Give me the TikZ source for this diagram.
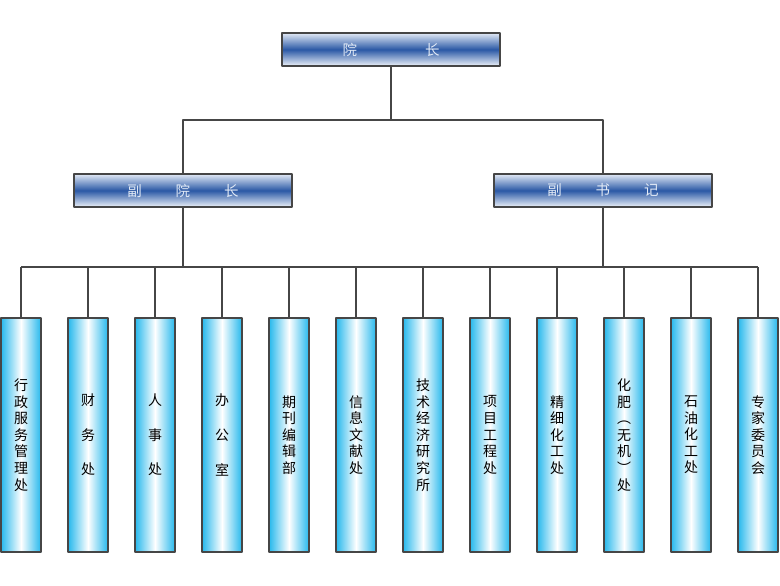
\documentclass[tikz,border=0pt]{standalone}
\usepackage{fontspec}
\newfontfamily\cjk{Noto Sans CJK SC}
\definecolor{barblue}{RGB}{42,88,165}
\definecolor{barlight}{RGB}{226,234,246}
\definecolor{colblue}{RGB}{38,184,236}
\definecolor{linegray}{RGB}{70,70,70}
\begin{document}
\begin{tikzpicture}[x=1pt, y=-1pt, line join=round,
    lead/.style={draw=linegray, line width=1.1pt, top color=barlight, bottom color=barlight!60!white,
        middle color=barblue, minimum width=218pt, minimum height=33pt, inner sep=0pt,
        text=barlight, font=\cjk\fontsize{14.5}{16}\selectfont},
    dept/.style={draw=linegray, line width=1.1pt, left color=colblue, right color=colblue,
        middle color=white, minimum width=40pt, minimum height=234pt, inner sep=0pt,
        align=center, font=\cjk\fontsize{14}{16.6}\selectfont},
    link/.style={draw=linegray, line width=1.1pt}]
    \useasboundingbox (0,0) rectangle (780,586);
    \def\ytop{49.5} \def\ymid{190.5} \def\ylow{435} % box centres
    \node[lead] (yz) at (391,\ytop) {院\hspace{68pt}长};
    \node[lead] (fyz) at (183,\ymid) {副\hspace{34pt}院\hspace{34pt}长};
    \node[lead] (fsj) at (603,\ymid) {副\hspace{34pt}书\hspace{34pt}记};
    \coordinate (bus1) at (391,120);
    \coordinate (bus2) at (391,267);
    % departments
    \foreach \i/\txt in {1/{行\\政\\服\\务\\管\\理\\处},
                         2/{财\\[18pt]务\\[18pt]处},
                         3/{人\\[18pt]事\\[18pt]处},
                         4/{办\\[18pt]公\\[18pt]室},
                         5/{期\\刊\\编\\辑\\部},
                         6/{信\\息\\文\\献\\处},
                         7/{技\\术\\经\\济\\研\\究\\所},
                         8/{项\\目\\工\\程\\处},
                         9/{精\\细\\化\\工\\处},
                         10/{化\\肥\\︵\\无\\机\\︶\\处},
                         11/{石\\油\\化\\工\\处},
                         12/{专\\家\\委\\员\\会}}
        \node[dept] (d\i) at ({21+67*(\i-1)},\ylow) {\txt};
    % connectors
    \draw[link] (yz.south) -- (bus1);
    \draw[link] (fyz.north) -- (fyz.north |- bus1) -- (fsj.north |- bus1) -- (fsj.north);
    \draw[link] (fyz.south) -- (fyz.south |- bus2);
    \draw[link] (fsj.south) -- (fsj.south |- bus2);
    \draw[link] (d1.north |- bus2) -- (d12.north |- bus2);
    \foreach \i in {1,...,12}
        \draw[link] (d\i.north) -- (d\i.north |- bus2);
\end{tikzpicture}
\end{document}
